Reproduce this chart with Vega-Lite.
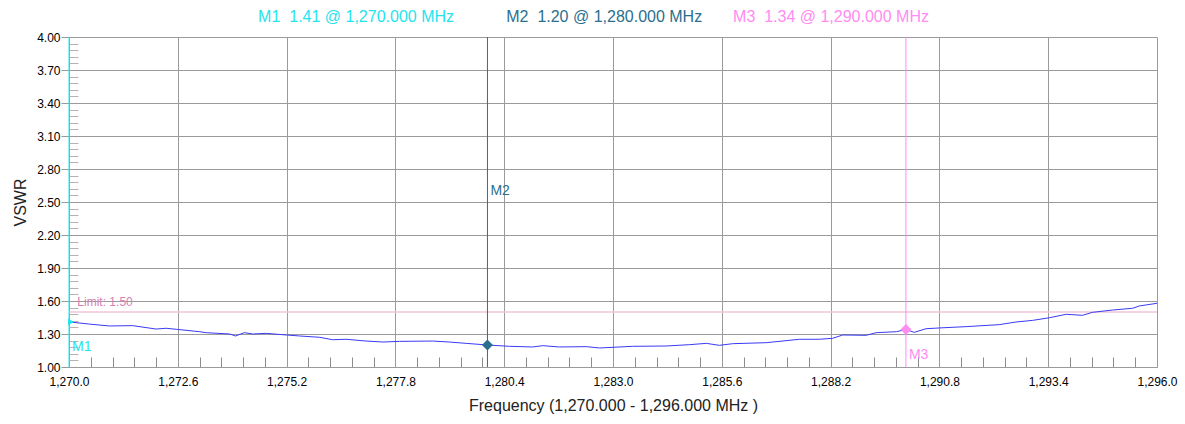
{
  "$schema": "https://vega.github.io/schema/vega-lite/v6.json",
  "width": 1088,
  "height": 330,
  "autosize": {"type": "none"},
  "padding": {"left": 69, "top": 37, "right": 28, "bottom": 57},
  "background": "white",
  "config": {
    "view": {"stroke": null},
    "font": "Liberation Sans",
    "text": {"font": "Liberation Sans"},
    "axis": {"labelFont": "Liberation Sans", "titleFont": "Liberation Sans"}
  },
  "datasets": {
    "trace": [
      {"freq": 1270.00, "vswr": 1.41}, {"freq": 1270.49, "vswr": 1.39}, {"freq": 1270.97, "vswr": 1.373},
      {"freq": 1271.52, "vswr": 1.376}, {"freq": 1272.08, "vswr": 1.345}, {"freq": 1272.32, "vswr": 1.352},
      {"freq": 1272.56, "vswr": 1.343}, {"freq": 1273.12, "vswr": 1.321}, {"freq": 1273.28, "vswr": 1.312},
      {"freq": 1273.84, "vswr": 1.30}, {"freq": 1273.98, "vswr": 1.282}, {"freq": 1274.19, "vswr": 1.312},
      {"freq": 1274.39, "vswr": 1.30}, {"freq": 1274.71, "vswr": 1.306}, {"freq": 1275.19, "vswr": 1.291},
      {"freq": 1275.51, "vswr": 1.282}, {"freq": 1275.99, "vswr": 1.27}, {"freq": 1276.30, "vswr": 1.248},
      {"freq": 1276.62, "vswr": 1.252}, {"freq": 1277.10, "vswr": 1.236}, {"freq": 1277.50, "vswr": 1.227},
      {"freq": 1277.90, "vswr": 1.233}, {"freq": 1278.69, "vswr": 1.236}, {"freq": 1279.09, "vswr": 1.227},
      {"freq": 1279.49, "vswr": 1.215}, {"freq": 1280.00, "vswr": 1.20}, {"freq": 1280.53, "vswr": 1.188},
      {"freq": 1281.08, "vswr": 1.182}, {"freq": 1281.32, "vswr": 1.194}, {"freq": 1281.72, "vswr": 1.182},
      {"freq": 1282.36, "vswr": 1.185}, {"freq": 1282.68, "vswr": 1.173}, {"freq": 1283.47, "vswr": 1.188},
      {"freq": 1284.27, "vswr": 1.191}, {"freq": 1284.83, "vswr": 1.203}, {"freq": 1285.23, "vswr": 1.215},
      {"freq": 1285.54, "vswr": 1.197}, {"freq": 1285.86, "vswr": 1.212}, {"freq": 1286.66, "vswr": 1.221},
      {"freq": 1287.46, "vswr": 1.252}, {"freq": 1287.93, "vswr": 1.252}, {"freq": 1288.25, "vswr": 1.261},
      {"freq": 1288.49, "vswr": 1.291}, {"freq": 1289.05, "vswr": 1.288}, {"freq": 1289.29, "vswr": 1.312},
      {"freq": 1289.77, "vswr": 1.321}, {"freq": 1290.00, "vswr": 1.34}, {"freq": 1290.20, "vswr": 1.315},
      {"freq": 1290.48, "vswr": 1.348}, {"freq": 1290.80, "vswr": 1.355}, {"freq": 1291.44, "vswr": 1.367},
      {"freq": 1292.23, "vswr": 1.385}, {"freq": 1292.63, "vswr": 1.409}, {"freq": 1293.03, "vswr": 1.424},
      {"freq": 1293.43, "vswr": 1.448}, {"freq": 1293.83, "vswr": 1.479}, {"freq": 1294.22, "vswr": 1.47},
      {"freq": 1294.46, "vswr": 1.497}, {"freq": 1294.94, "vswr": 1.518}, {"freq": 1295.42, "vswr": 1.534},
      {"freq": 1295.58, "vswr": 1.555}, {"freq": 1296.00, "vswr": 1.579}
    ],
    "markers": [
      {"marker": "M1", "freq": 1270, "vswr": 1.41, "legend": "M1\u00a0 1.41 @ 1,270.000 MHz"},
      {"marker": "M2", "freq": 1280, "vswr": 1.20, "legend": "M2\u00a0 1.20 @ 1,280.000 MHz"},
      {"marker": "M3", "freq": 1290, "vswr": 1.34, "legend": "M3\u00a0 1.34 @ 1,290.000 MHz"}
    ],
    "limit": [
      {"label": "Limit: 1.50", "vswr": 1.5}
    ]
  },
  "layer": [
    {
      "data": {"name": "trace"},
      "mark": {"type": "point", "opacity": 0},
      "encoding": {
        "x": {"field": "freq", "type": "quantitative",
          "scale": {"domain": [1270, 1296], "nice": false, "zero": false},
          "axis": {"orient": "bottom", "values": [1270.52, 1271.04, 1271.56, 1272.08, 1273.12, 1273.64, 1274.16, 1274.68, 1275.72, 1276.24, 1276.76, 1277.28, 1278.32, 1278.84, 1279.36, 1279.88, 1280.92, 1281.44, 1281.96, 1282.48, 1283.52, 1284.04, 1284.56, 1285.08, 1286.12, 1286.64, 1287.16, 1287.68, 1288.72, 1289.24, 1289.76, 1290.28, 1291.32, 1291.84, 1292.36, 1292.88, 1293.92, 1294.44, 1294.96, 1295.48],
            "labels": false, "grid": false, "domain": false, "title": null,
            "tickSize": -10, "tickColor": "#8c8c8c", "tickWidth": 1}},
        "y": {"field": "vswr", "type": "quantitative",
          "scale": {"domain": [1, 4], "nice": false, "zero": false},
          "axis": {"orient": "left", "values": [1.06, 1.12, 1.18, 1.24, 1.36, 1.42, 1.48, 1.54, 1.66, 1.72, 1.78, 1.84, 1.96, 2.02, 2.08, 2.14, 2.26, 2.32, 2.38, 2.44, 2.56, 2.62, 2.68, 2.74, 2.86, 2.92, 2.98, 3.04, 3.16, 3.22, 3.28, 3.34, 3.46, 3.52, 3.58, 3.64, 3.76, 3.82, 3.88, 3.94],
            "labels": false, "grid": false, "domain": false, "title": null,
            "tickSize": -9, "tickColor": "#b4b4b4", "tickWidth": 1}}
      }
    },
    {
      "data": {"name": "limit"},
      "mark": {"type": "rule", "color": "#f2c4da", "strokeWidth": 1.5},
      "encoding": {
        "y": {"field": "vswr", "type": "quantitative", "axis": null}
      }
    },
    {
      "data": {"name": "limit"},
      "mark": {"type": "text", "align": "left", "baseline": "middle", "fontSize": 12, "color": "#d67fb2", "dy": -10},
      "encoding": {
        "x": {"datum": 1270.2, "type": "quantitative", "axis": null},
        "y": {"field": "vswr", "type": "quantitative", "axis": null},
        "text": {"field": "label"}
      }
    },
    {
      "data": {"name": "trace"},
      "mark": {"type": "line", "color": "#3a3af5", "strokeWidth": 1},
      "encoding": {
        "x": {"field": "freq", "type": "quantitative",
          "axis": {"orient": "bottom", "values": [1270, 1272.6, 1275.2, 1277.8, 1280.4, 1283, 1285.6, 1288.2, 1290.8, 1293.4, 1296],
            "format": ",.1f", "grid": true, "gridColor": "#9a9a9a", "gridWidth": 1,
            "domain": true, "domainColor": "#9a9a9a", "ticks": false, "tickSize": 0,
            "labelPadding": 9, "labelFontSize": 12, "labelColor": "#000000", "labelFlush": false, "labelOverlap": false,
            "title": "Frequency (1,270.000 - 1,296.000 MHz )", "titleFontSize": 16, "titleFontWeight": "normal", "titleColor": "#222222", "titlePadding": 10}},
        "y": {"field": "vswr", "type": "quantitative",
          "axis": {"orient": "left", "values": [1, 1.3, 1.6, 1.9, 2.2, 2.5, 2.8, 3.1, 3.4, 3.7, 4.0],
            "format": ".2f", "grid": true, "gridColor": "#9a9a9a", "gridWidth": 1,
            "domain": false, "tickSize": 8, "tickColor": "#9a9a9a",
            "labelPadding": 1, "labelFontSize": 12, "labelColor": "#000000", "labelFlush": false, "labelOverlap": false,
            "title": "VSWR", "titleFontSize": 16, "titleFontWeight": "normal", "titleColor": "#222222", "titlePadding": 8}}
      }
    },
    {
      "data": {"name": "markers"},
      "mark": {"type": "rule", "strokeWidth": 1},
      "encoding": {
        "x": {"field": "freq", "type": "quantitative", "axis": null},
        "color": {"field": "marker", "type": "nominal",
          "scale": {"domain": ["M1", "M2", "M3"], "range": ["#1fe4ee", "#2a6f8e", "#ff8cf2"]}, "legend": null}
      }
    },
    {
      "data": {"name": "markers"},
      "transform": [{"filter": "datum.marker != 'M1'"}],
      "mark": {"type": "point", "shape": "diamond", "filled": true, "size": 121, "opacity": 1},
      "encoding": {
        "x": {"field": "freq", "type": "quantitative", "axis": null},
        "y": {"field": "vswr", "type": "quantitative", "axis": null},
        "color": {"field": "marker", "type": "nominal", "legend": null}
      }
    },
    {
      "data": {"name": "markers"},
      "transform": [{"filter": "datum.marker == 'M1'"}],
      "mark": {"type": "point", "shape": "triangle-right", "filled": true, "size": 45, "opacity": 1},
      "encoding": {
        "x": {"field": "freq", "type": "quantitative", "axis": null},
        "xOffset": {"value": 2},
        "y": {"field": "vswr", "type": "quantitative", "axis": null},
        "color": {"field": "marker", "type": "nominal", "legend": null}
      }
    },
    {
      "data": {"name": "markers"},
      "transform": [{"filter": "datum.marker != 'M2'"}],
      "mark": {"type": "text", "align": "left", "baseline": "middle", "fontSize": 14, "dx": 3, "dy": 25},
      "encoding": {
        "x": {"field": "freq", "type": "quantitative", "axis": null},
        "y": {"field": "vswr", "type": "quantitative", "axis": null},
        "text": {"field": "marker"},
        "color": {"field": "marker", "type": "nominal", "legend": null}
      }
    },
    {
      "data": {"name": "markers"},
      "transform": [{"filter": "datum.marker == 'M2'"}],
      "mark": {"type": "text", "align": "left", "baseline": "middle", "fontSize": 14, "dx": 3},
      "encoding": {
        "x": {"field": "freq", "type": "quantitative", "axis": null},
        "y": {"datum": 2.6, "type": "quantitative", "axis": null},
        "text": {"field": "marker"},
        "color": {"field": "marker", "type": "nominal", "legend": null}
      }
    },
    {
      "data": {"name": "markers"},
      "transform": [{"filter": "datum.marker == 'M1'"}],
      "mark": {"type": "text", "align": "center", "baseline": "middle", "fontSize": 16},
      "encoding": {
        "x": {"datum": 1276.86, "type": "quantitative", "axis": null},
        "y": {"datum": 4.18, "type": "quantitative", "axis": null},
        "text": {"field": "legend"},
        "color": {"field": "marker", "type": "nominal", "legend": null}
      }
    },
    {
      "data": {"name": "markers"},
      "transform": [{"filter": "datum.marker == 'M2'"}],
      "mark": {"type": "text", "align": "center", "baseline": "middle", "fontSize": 16},
      "encoding": {
        "x": {"datum": 1282.79, "type": "quantitative", "axis": null},
        "y": {"datum": 4.18, "type": "quantitative", "axis": null},
        "text": {"field": "legend"},
        "color": {"field": "marker", "type": "nominal", "legend": null}
      }
    },
    {
      "data": {"name": "markers"},
      "transform": [{"filter": "datum.marker == 'M3'"}],
      "mark": {"type": "text", "align": "center", "baseline": "middle", "fontSize": 16},
      "encoding": {
        "x": {"datum": 1288.21, "type": "quantitative", "axis": null},
        "y": {"datum": 4.18, "type": "quantitative", "axis": null},
        "text": {"field": "legend"},
        "color": {"field": "marker", "type": "nominal", "legend": null}
      }
    }
  ],
  "resolve": {"axis": {"x": "independent", "y": "independent"}}
}
